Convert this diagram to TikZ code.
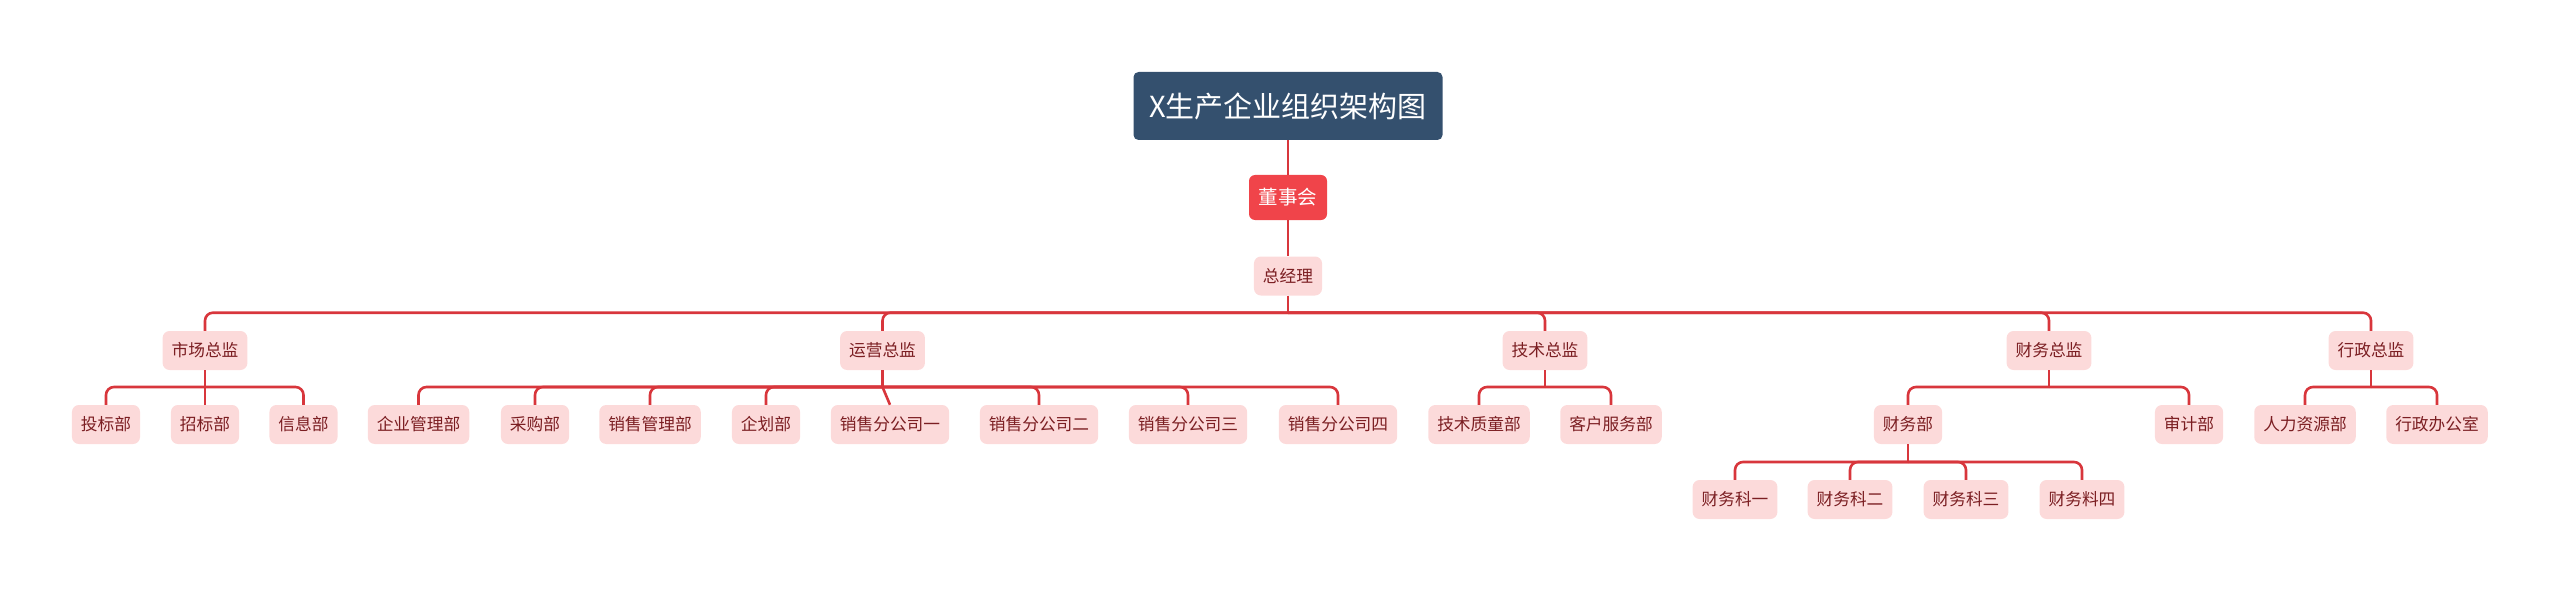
\documentclass[tikz,border=0pt]{standalone}
\usepackage{fontspec}
\newfontfamily\cjk{Noto Sans CJK SC}
\definecolor{rootfill}{HTML}{34506E}
\definecolor{boardfill}{HTML}{F0444A}
\definecolor{pinkfill}{HTML}{FCDADA}
\definecolor{pinktext}{HTML}{7B1E22}
\definecolor{linecol}{HTML}{D8363C}
\tikzset{
  rootbox/.style={fill=rootfill, text=white, rounded corners=5bp, inner sep=0pt,
    minimum width=309bp, minimum height=68bp, font=\cjk\fontsize{29bp}{32bp}\selectfont},
  boardbox/.style={fill=boardfill, text=white, rounded corners=6bp, inner sep=0pt,
    minimum width=78bp, minimum height=45bp, font=\cjk\fontsize{19.5bp}{22bp}\selectfont},
  pinkbox/.style={fill=pinkfill, text=pinktext, rounded corners=7bp, inner xsep=9bp, inner ysep=0pt,
    minimum height=39bp, font=\cjk\fontsize{16.7bp}{20bp}\selectfont},
  wire/.style={draw=linecol, line width=2.6bp, rounded corners=8bp},
}
\begin{document}
\begin{tikzpicture}[x=1bp,y=-1bp]
\useasboundingbox (0,0) rectangle (2560,591);
% levels
\coordinate (y1) at (0,312.7);
\coordinate (y2) at (0,387);
\coordinate (y3) at (0,462);
% top
\node[rootbox] (root) at (1288,106) {X生产企业组织架构图};
\node[boardbox] (board) at (1288,197.5) {董事会};
\node[pinkbox] (gm) at (1288,276) {总经理};
% level 2
\node[pinkbox] (m) at (205,350.5) {市场总监};
\node[pinkbox] (o) at (882.5,350.5) {运营总监};
\node[pinkbox] (t) at (1545,350.5) {技术总监};
\node[pinkbox] (f) at (2049,350.5) {财务总监};
\node[pinkbox] (a) at (2371,350.5) {行政总监};
% level 3
\node[pinkbox] (m1) at (106,424.5) {投标部};
\node[pinkbox] (m2) at (205,424.5) {招标部};
\node[pinkbox] (m3) at (303.5,424.5) {信息部};
\node[pinkbox] (o1) at (418.5,424.5) {企业管理部};
\node[pinkbox] (o2) at (535,424.5) {采购部};
\node[pinkbox] (o3) at (650,424.5) {销售管理部};
\node[pinkbox] (o4) at (766,424.5) {企划部};
\node[pinkbox] (o5) at (890,424.5) {销售分公司一};
\node[pinkbox] (o6) at (1039,424.5) {销售分公司二};
\node[pinkbox] (o7) at (1188,424.5) {销售分公司三};
\node[pinkbox] (o8) at (1338,424.5) {销售分公司四};
\node[pinkbox] (t1) at (1479,424.5) {技术质童部};
\node[pinkbox] (t2) at (1611,424.5) {客户服务部};
\node[pinkbox] (f1) at (1908,424.5) {财务部};
\node[pinkbox] (f2) at (2189,424.5) {审计部};
\node[pinkbox] (a1) at (2305,424.5) {人力资源部};
\node[pinkbox] (a2) at (2437,424.5) {行政办公室};
% level 4
\node[pinkbox] (k1) at (1735,499.5) {财务科一};
\node[pinkbox] (k2) at (1850,499.5) {财务科二};
\node[pinkbox] (k3) at (1966,499.5) {财务科三};
\node[pinkbox] (k4) at (2082,499.5) {财务料四};
% connectors
\draw[wire] (root.south) -- (board.north);
\draw[wire] (board.south) -- (gm.north);
\draw[wire] (gm.south) -- (gm.south |- y1);
\foreach \c in {m,o,t,f,a} \draw[wire] (gm.south |- y1) -| (\c.north);
\draw[wire] (m.south) -- (m.south |- y2);
\foreach \c in {m1,m2,m3} \draw[wire] (m.south |- y2) -| (\c.north);
\draw[wire] (o.south) -- (o.south |- y2);
\foreach \c in {o1,o2,o3,o4,o6,o7,o8} \draw[wire] (o.south |- y2) -| (\c.north);
\draw[wire] (o.south |- y2) -- (o5.north);
\draw[wire] (t.south) -- (t.south |- y2);
\foreach \c in {t1,t2} \draw[wire] (t.south |- y2) -| (\c.north);
\draw[wire] (f.south) -- (f.south |- y2);
\foreach \c in {f1,f2} \draw[wire] (f.south |- y2) -| (\c.north);
\draw[wire] (a.south) -- (a.south |- y2);
\foreach \c in {a1,a2} \draw[wire] (a.south |- y2) -| (\c.north);
\draw[wire] (f1.south) -- (f1.south |- y3);
\foreach \c in {k1,k2,k3,k4} \draw[wire] (f1.south |- y3) -| (\c.north);
\end{tikzpicture}
\end{document}
